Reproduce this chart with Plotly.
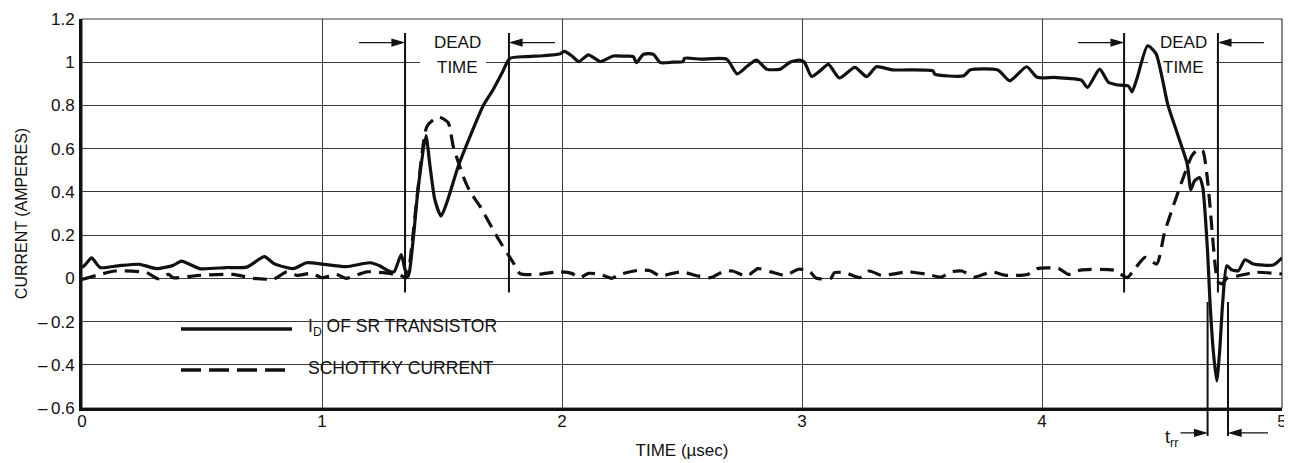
import plotly.graph_objects as go

# ---------------- data ----------------
time_id = [0.0, 0.015, 0.04, 0.075, 0.15, 0.24, 0.31, 0.38, 0.415, 0.49, 0.6, 0.686,
           0.76, 0.80, 0.88, 0.936, 1.0, 1.10, 1.20, 1.242, 1.276, 1.30, 1.33, 1.346,
           1.36, 1.38, 1.40, 1.433, 1.45, 1.47, 1.496, 1.52, 1.568, 1.617, 1.672, 1.714,
           1.75, 1.783, 1.85, 1.92, 1.99, 2.01, 2.04, 2.07, 2.11, 2.16, 2.214, 2.26,
           2.297, 2.31, 2.34, 2.38, 2.41, 2.46, 2.505, 2.51, 2.58, 2.686, 2.73, 2.77,
           2.81, 2.853, 2.91, 2.95, 2.99, 3.01, 3.04, 3.075, 3.11, 3.156, 3.22, 3.27,
           3.31, 3.376, 3.546, 3.553, 3.674, 3.70, 3.816, 3.866, 3.936, 3.98, 4.05,
           4.108, 4.164, 4.19, 4.24, 4.277, 4.31, 4.36, 4.375, 4.395, 4.44, 4.475,
           4.525, 4.567, 4.605, 4.62, 4.635, 4.656, 4.67, 4.69, 4.70, 4.714, 4.728,
           4.74, 4.753, 4.77, 4.79, 4.818, 4.846, 4.88, 4.964, 5.0]
current_id = [0.05, 0.065, 0.095, 0.05, 0.058, 0.065, 0.045, 0.06, 0.08, 0.045, 0.05, 0.052,
              0.10, 0.068, 0.045, 0.072, 0.066, 0.054, 0.072, 0.057, 0.035, 0.03, 0.11, 0.04,
              0.01, 0.18, 0.41, 0.66, 0.52, 0.365, 0.288, 0.35, 0.52, 0.657, 0.80, 0.875,
              0.95, 1.018, 1.026, 1.03, 1.038, 1.05, 1.03, 1.003, 1.034, 1.003, 1.029, 1.028,
              1.026, 0.998, 1.037, 1.037, 0.998, 1.0, 1.003, 1.018, 1.014, 1.014, 0.946, 0.98,
              1.01, 0.968, 0.968, 1.0, 1.01, 1.0, 0.934, 0.96, 0.99, 0.927, 0.976, 0.933,
              0.979, 0.965, 0.96, 0.945, 0.937, 0.964, 0.964, 0.914, 0.979, 0.93, 0.93,
              0.925, 0.917, 0.883, 0.968, 0.907, 0.896, 0.89, 0.863, 0.922, 1.076, 1.04,
              0.80, 0.66, 0.53, 0.41, 0.45, 0.466, 0.42, 0.12, -0.11, -0.34, -0.475,
              -0.34, -0.11, 0.058, 0.04, 0.035, 0.086, 0.066, 0.062, 0.095]

time_sch = [0.0, 0.075, 0.1375, 0.27, 0.318, 0.36, 0.38, 0.49, 0.63, 0.714, 0.80, 0.853,
            0.895, 0.957, 1.0, 1.06, 1.10, 1.186, 1.255, 1.325, 1.353, 1.374, 1.395, 1.436,
            1.464, 1.49, 1.526, 1.547, 1.589, 1.617, 1.658, 1.728, 1.797, 1.825, 1.895,
            1.99, 2.04, 2.075, 2.11, 2.16, 2.207, 2.24, 2.325, 2.37, 2.41, 2.46, 2.5, 2.57,
            2.62, 2.67, 2.71, 2.77, 2.816, 2.87, 2.93, 2.986, 3.03, 3.06, 3.12, 3.135, 3.18,
            3.24, 3.28, 3.33, 3.37, 3.44, 3.525, 3.58, 3.62, 3.666, 3.72, 3.79, 3.85, 3.94,
            3.98, 4.07, 4.11, 4.16, 4.30, 4.355, 4.38, 4.43, 4.478, 4.51, 4.547, 4.59,
            4.624, 4.65, 4.67, 4.686, 4.70, 4.714, 4.725, 4.735, 4.75, 4.77, 4.81, 4.89, 5.0]
current_sch = [-0.005, 0.018, 0.034, 0.026, -0.002, 0.018, 0.003, 0.014, 0.018, 0.0, -0.003, 0.03,
               0.014, 0.023, 0.003, 0.018, 0.0, 0.03, 0.026, 0.014, 0.003, 0.15, 0.365, 0.70,
               0.734, 0.746, 0.72, 0.61, 0.47, 0.40, 0.334, 0.195, 0.072, 0.022, 0.018,
               0.03, 0.023, 0.003, 0.023, 0.018, 0.0, 0.018, 0.038, 0.034, 0.01, 0.023, 0.03, 0.01,
               0.003, 0.03, 0.034, 0.01, 0.045, 0.03, 0.014, 0.042, 0.034, 0.0, 0.0, 0.026, 0.026,
               0.003, 0.034, 0.014, 0.018, 0.03, 0.018, 0.006, 0.03, 0.034, 0.006, 0.03, 0.014, 0.018,
               0.045, 0.045, 0.018, 0.038, 0.038, 0.003, 0.034, 0.097, 0.066, 0.21, 0.335, 0.47,
               0.566, 0.597, 0.59, 0.49, 0.335, 0.15, 0.028, -0.018, -0.026, 0.0, 0.01, 0.028, 0.02]

series_names = ["I<sub>D</sub> OF SR TRANSISTOR", "SCHOTTKY CURRENT"]
x_tickvals = [0, 1, 2, 3, 4, 5]
x_ticktext = ["0", "1", "2", "3", "4", "5"]
y_tickvals = [-0.6, -0.4, -0.2, 0, 0.2, 0.4, 0.6, 0.8, 1.0, 1.2]
y_ticktext = ["\u2013\u20090.6", "\u2013\u20090.4", "\u2013\u20090.2", "0", "0.2", "0.4",
              "0.6", "0.8", "1", "1.2"]
dead_time_marks = [1.346, 1.779, 4.342, 4.733]
trr_marks = [4.69, 4.775]

# ---------------- styling ----------------
FONT = "Liberation Sans, Arial, Helvetica, sans-serif"
INK = "#111111"
GRID = "#3a3a3a"
DASH = "14px,8px"
PX_PER_T = 240.0  # approx pixels per microsecond, for small pixel offsets


def arrow_path(length, direction):
    """Horizontal arrow in pixel units, tip at (0,0); direction +1 points right, -1 left."""
    d = direction
    return (f"M{-d * length},0 L{-d * 9},0 "
            f"M{-d * 11},-3.2 L0,0 L{-d * 11},3.2 Z")


fig = go.Figure()
fig.add_trace(go.Scatter(x=time_id, y=current_id, mode="lines", name=series_names[0],
                         line=dict(color=INK, width=3.2, shape="spline", smoothing=0.6),
                         showlegend=False, hoverinfo="skip"))
fig.add_trace(go.Scatter(x=time_sch, y=current_sch, mode="lines", name=series_names[1],
                         line=dict(color=INK, width=3.2, dash=DASH, shape="spline", smoothing=0.6),
                         showlegend=False, hoverinfo="skip"))

shapes = []
annotations = []

# white masks that interrupt the grid (behind traces)
for x0, x1 in [(1.408, 1.683), (4.442, 4.725)]:
    shapes.append(dict(type="rect", xref="x", yref="y", x0=x0, x1=x1, y0=0.92, y1=1.15,
                       fillcolor="white", line=dict(width=0), layer="between"))
shapes.append(dict(type="rect", xref="paper", yref="paper", x0=0.0733, x1=0.374, y0=0.031, y1=0.267,
                   fillcolor="white", line=dict(width=0), layer="between"))

# thin frame (top / right)
shapes.append(dict(type="rect", xref="paper", yref="paper", x0=0, x1=1, y0=0, y1=1,
                   line=dict(color=GRID, width=1.2), layer="below"))

# dead-time markers
for t in dead_time_marks:
    shapes.append(dict(type="line", xref="x", yref="y", x0=t, x1=t, y0=-0.065, y1=1.135,
                       line=dict(color=INK, width=2), layer="above"))
arrow_y = 1.091
for t, direction in zip(dead_time_marks, [1, -1, 1, -1]):
    shapes.append(dict(type="path", xref="x", yref="y", xsizemode="pixel", ysizemode="pixel",
                       xanchor=t - direction * 2 / PX_PER_T, yanchor=arrow_y,
                       path=arrow_path(44, direction), fillcolor=INK,
                       line=dict(color=INK, width=1.3), layer="above"))
for tc in [1.5625, 4.588]:
    annotations.append(dict(x=tc, y=1.092, xref="x", yref="y", text="DEAD", showarrow=False,
                            font=dict(family=FONT, size=17, color=INK), xanchor="center", yanchor="middle"))
    annotations.append(dict(x=tc, y=0.974, xref="x", yref="y", text="TIME", showarrow=False,
                            font=dict(family=FONT, size=17, color=INK), xanchor="center", yanchor="middle"))

# t_rr markers (extend below the axis)
for t in trr_marks:
    shapes.append(dict(type="line", xref="x", yref="paper", x0=t, x1=t, y0=-0.072, y1=0.2725,
                       line=dict(color=INK, width=2), layer="above"))
trr_y = -0.064
shapes.append(dict(type="path", xref="x", yref="paper", xsizemode="pixel", ysizemode="pixel",
                   xanchor=trr_marks[0] - 2 / PX_PER_T, yanchor=trr_y,
                   path=arrow_path(25, 1), fillcolor=INK, line=dict(color=INK, width=1.3),
                   layer="above"))
shapes.append(dict(type="path", xref="x", yref="paper", xsizemode="pixel", ysizemode="pixel",
                   xanchor=trr_marks[1] + 2 / PX_PER_T, yanchor=trr_y,
                   path=arrow_path(38, -1), fillcolor=INK, line=dict(color=INK, width=1.3),
                   layer="above"))
annotations.append(dict(x=trr_marks[0] - 36 / PX_PER_T, y=-0.078, xref="x", yref="paper",
                        text="t<sub>rr</sub>", showarrow=False,
                        font=dict(family=FONT, size=18, color=INK), xanchor="center", yanchor="middle"))

# hand-drawn legend
legend_rows = [(0.203, 0.208, "solid"), (0.098, 0.103, "20px,8px")]
for (ly, ty, dash), name in zip(legend_rows, series_names):
    shapes.append(dict(type="line", xref="paper", yref="paper", x0=0.0825, x1=0.175, y0=ly, y1=ly,
                       line=dict(color=INK, width=3.5, dash=dash), layer="above"))
    annotations.append(dict(x=0.1867, y=ty, xref="paper", yref="paper", text=name, showarrow=False,
                            font=dict(family=FONT, size=17.5, color=INK), xanchor="left", yanchor="middle"))

# the page body adds an 8px margin, so the figure is sized to fit the window
fig.update_layout(
    width=1284, height=455,
    margin=dict(l=74, r=10, t=11, b=55, autoexpand=False),
    paper_bgcolor="white", plot_bgcolor="white",
    font=dict(family=FONT, size=17, color=INK),
    shapes=shapes, annotations=annotations,
    showlegend=False,
)
fig.update_xaxes(range=[0, 5], tickvals=x_tickvals, ticktext=x_ticktext, automargin=False,
                 showgrid=True, gridcolor=GRID, gridwidth=1.2, zeroline=False,
                 showline=True, linecolor=INK, linewidth=3, ticks="", ticklen=0, ticklabelstandoff=-4,
                 tickfont=dict(family=FONT, size=17, color=INK),
                 title=dict(text="TIME (\u00b5sec)", font=dict(family=FONT, size=17, color=INK), standoff=14))
fig.update_yaxes(range=[-0.6, 1.2], tickvals=y_tickvals, ticktext=y_ticktext, automargin=False,
                 showgrid=True, gridcolor=GRID, gridwidth=1.2, zeroline=False,
                 showline=True, linecolor=INK, linewidth=3, ticks="", ticklen=0, ticklabelstandoff=1,
                 tickfont=dict(family=FONT, size=17, color=INK),
                 title=dict(text="CURRENT (AMPERES)", font=dict(family=FONT, size=16, color=INK), standoff=7))

fig.write_html("out.html")
